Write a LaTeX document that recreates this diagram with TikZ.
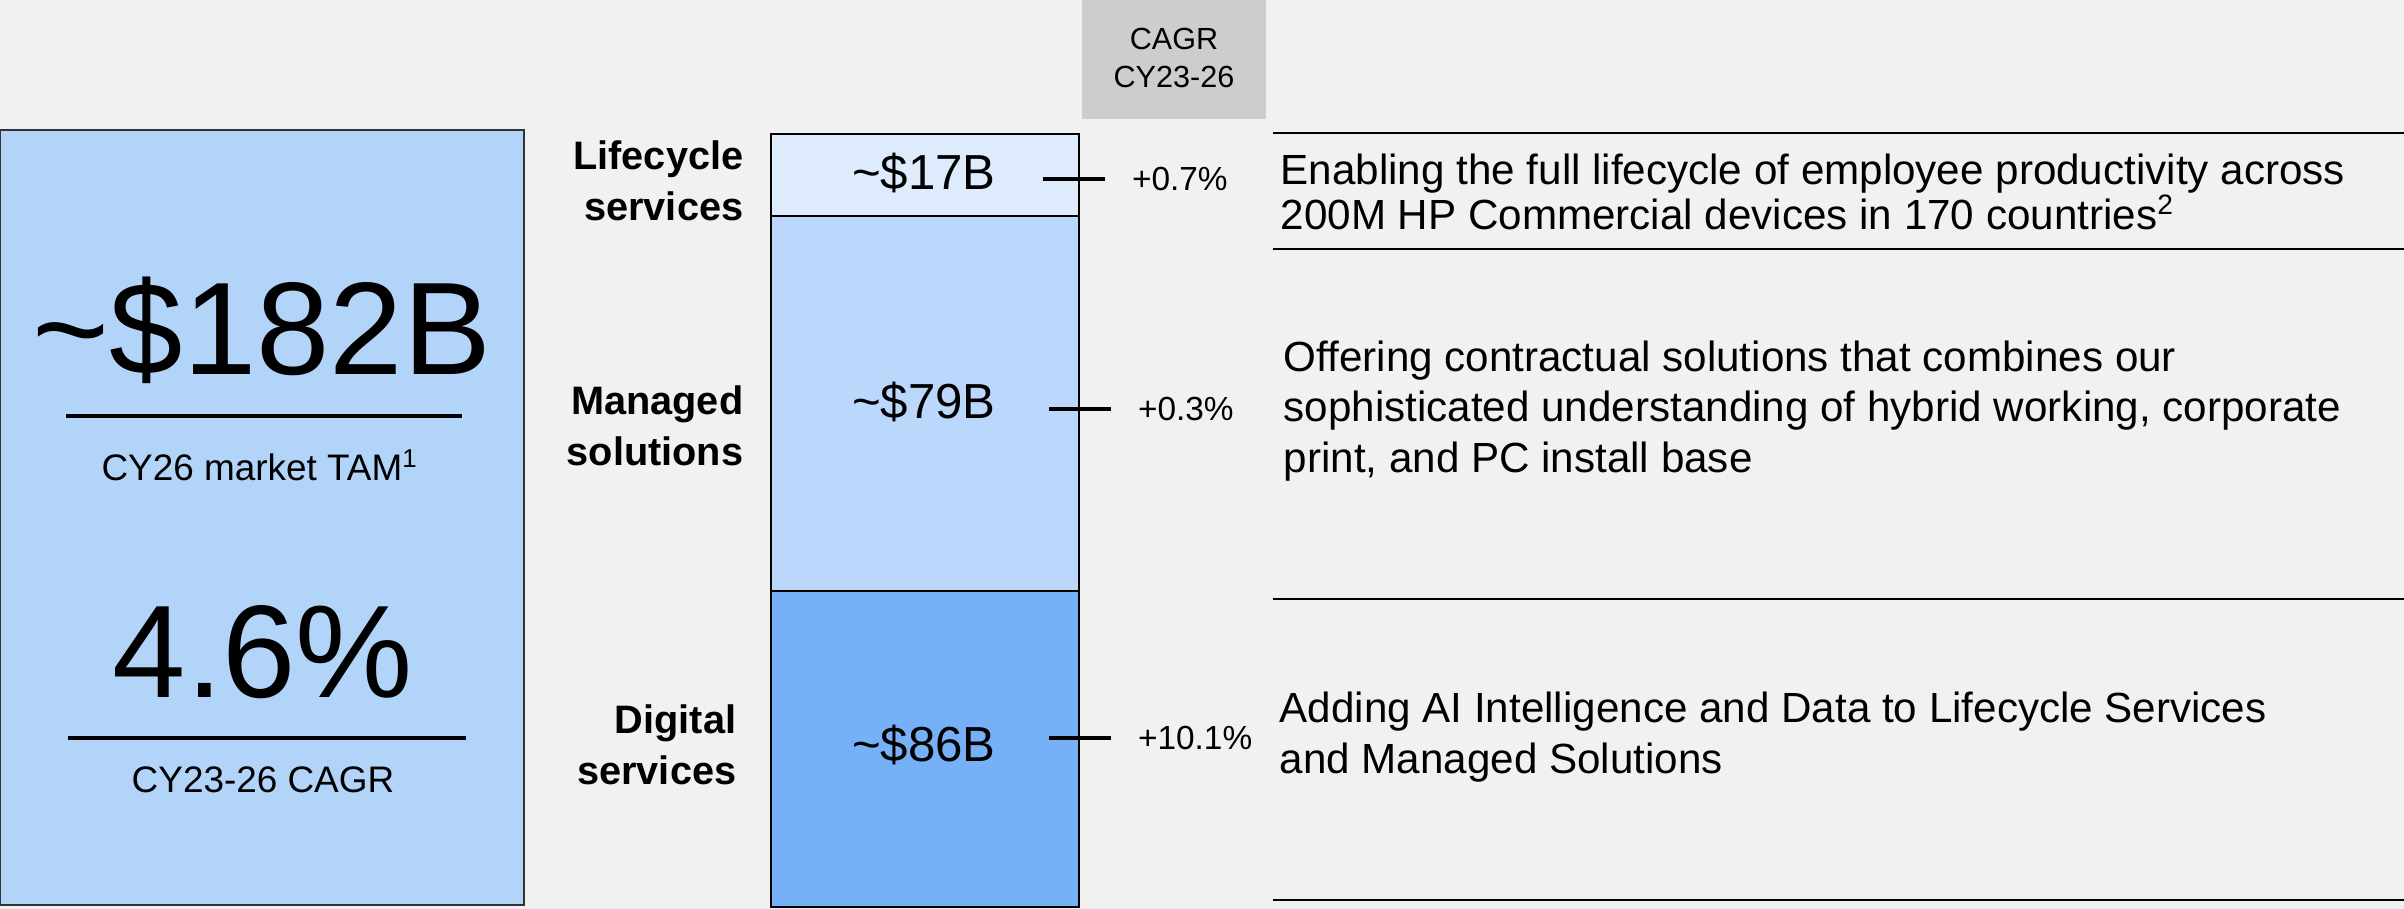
\documentclass[tikz,border=0pt]{standalone}
\usepackage{fontspec}
\setmainfont{Liberation Sans}
\usepackage{tikz}
\usetikzlibrary{positioning}
\definecolor{bgGray}{RGB}{241,241,241}
\definecolor{hdrGray}{RGB}{205,205,205}
\definecolor{tamBlue}{RGB}{179,212,249}
\definecolor{lifeBlue}{RGB}{221,235,252}
\definecolor{mgdBlue}{RGB}{187,215,251}
\definecolor{digBlue}{RGB}{118,176,247}

\begin{document}
\begin{tikzpicture}[x=0.1mm, y=0.1mm,
	bignum/.style={anchor=base, font=\fontsize{37.5}{40}\selectfont},
	subtxt/.style={anchor=base, font=\fontsize{10.5}{12}\selectfont},
	seg/.style={anchor=east, align=right, font=\bfseries\fontsize{11.3}{14.5}\selectfont},
	val/.style={font=\fontsize{14}{16}\selectfont},
	pct/.style={anchor=west, outer xsep=7.7pt, font=\fontsize{9.5}{11}\selectfont},
	desc/.style={anchor=west, align=left, font=\fontsize{12}{14.3}\selectfont},
	hrule/.style={line width=0.8pt}]
			\tikzstyle{every node}+=[inner sep=0pt]
			\fill [bgGray] (0,0) rectangle (2404,-909);
			\useasboundingbox (0,0) rectangle (2404,-909);
			\draw [black!80, fill=tamBlue, line width=0.6pt] (0,-130) rectangle (524,-905);
			\draw (262,-375) node (tam) [bignum] {\textasciitilde\$182B};
			\draw [line width=1.1pt] (66,-416) -- (462,-416);
			\draw (260,-481) node (tamlbl) [subtxt] {CY26 market TAM\textsuperscript{1}};
			\draw (263,-698) node (cagr) [bignum] {4.6\%};
			\draw [line width=1.1pt] (68,-738) -- (466,-738);
			\draw (263,-793) node (cagrlbl) [subtxt] {CY23-26 CAGR};
			\fill [hdrGray] (1082,0) rectangle (1266,-119);
			\draw (1174,-58) node (hdr) [align=center, font=\fontsize{8.7}{10.6}\selectfont] {CAGR\\CY23-26};
			\draw [black, fill=lifeBlue, line width=0.6pt] (771,-134) rectangle (1079,-216);
			\draw [black, fill=mgdBlue, line width=0.6pt] (771,-216) rectangle (1079,-591);
			\draw [black, fill=digBlue, line width=0.6pt] (771,-591) rectangle (1079,-907);
			\draw (744,-181) node (lcs) [seg] {Lifecycle\\services};
			\draw (744,-426) node (mgs) [seg] {Managed\\solutions};
			\draw (737,-745) node (dgs) [seg] {Digital\\services};
			\draw (924,-173) node (v17) [val] {\textasciitilde\$17B};
			\draw (924,-402) node (v79) [val] {\textasciitilde\$79B};
			\draw (924,-745) node (v86) [val] {\textasciitilde\$86B};
			\coordinate (t17) at (1043,-179);
			\coordinate (t79) at (1049,-409);
			\coordinate (t86) at (1049,-738);
			\draw (1105,-179) node (p17) [pct] {+0.7\%};
			\draw (1111,-409) node (p79) [pct] {+0.3\%};
			\draw (1111,-738) node (p86) [pct] {+10.1\%};
			\draw [line width=1pt] (t17) -- (p17.west);
			\draw [line width=1pt] (t79) -- (p79.west);
			\draw [line width=1pt] (t86) -- (p86.west);
			\draw [hrule] (1273,-133) -- (2404,-133);
			\draw [hrule] (1273,-249) -- (2404,-249);
			\draw [hrule] (1273,-599) -- (2404,-599);
			\draw [hrule] (1273,-900) -- (2404,-900);
			\draw (1280,-192) node (d17) [desc, font=\fontsize{12}{12.8}\selectfont] {Enabling the full lifecycle of employee productivity across\\200M HP Commercial devices in 170 countries\textsuperscript{2}};
			\draw (1283,-411) node (d79) [desc] {Offering contractual solutions that combines our\\sophisticated understanding of hybrid working, corporate\\print, and PC install base};
			\draw (1279,-737) node (d86) [desc] {Adding AI Intelligence and Data to Lifecycle Services\\and Managed Solutions};
\end{tikzpicture}
\end{document}
